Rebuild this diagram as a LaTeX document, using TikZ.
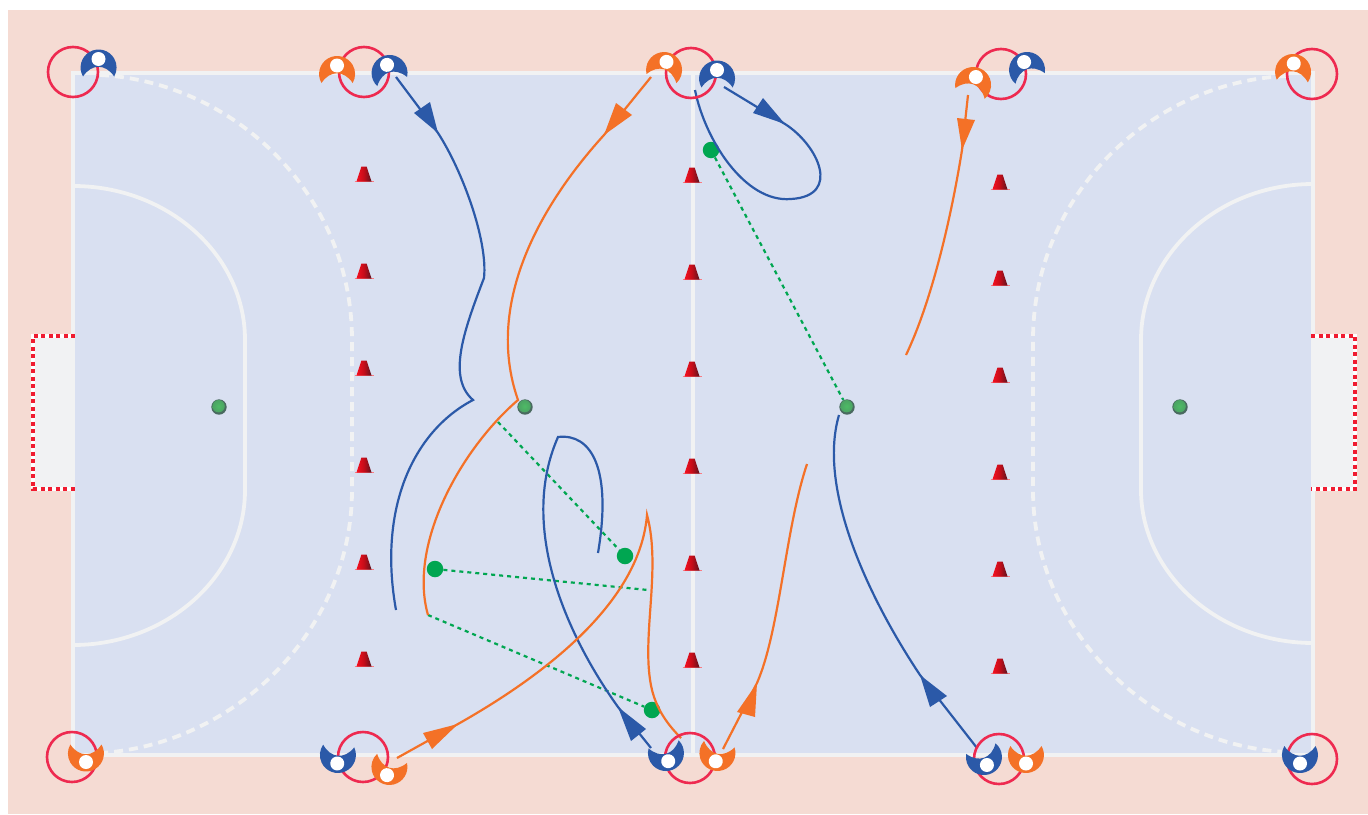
\documentclass[tikz,border=0pt]{standalone}
\usetikzlibrary{calc}
\definecolor{bgpink}{HTML}{F5DBD3}
\definecolor{fieldc}{HTML}{D9E0F1}
\definecolor{linec}{HTML}{F1F2F3}
\definecolor{blueP}{HTML}{2B59A8}
\definecolor{orangeP}{HTML}{F47127}
\definecolor{ringc}{HTML}{EE2A50}
\definecolor{greenD}{HTML}{00A651}
\definecolor{goalred}{HTML}{F01C30}
\definecolor{conedark}{HTML}{5A1420}
\definecolor{conered}{HTML}{F41020}
\definecolor{ballin}{HTML}{4DBB65}
\definecolor{ballout}{HTML}{4A6A60}
\tikzset{
  court/.style={draw=linec,line width=3.8pt},
  courtdash/.style={draw=linec,line width=3.8pt,dash pattern=on 9pt off 6pt},
  ring/.style={draw=ringc,line width=2.6pt,fill=none,circle,minimum size=50pt,inner sep=0pt},
  bluerun/.style={draw=blueP,line width=2.2pt},
  orangerun/.style={draw=orangeP,line width=2.2pt},
  bluehead/.style={fill=blueP,draw=none},
  orangehead/.style={fill=orangeP,draw=none},
  greendot/.style={circle,fill=greenD,draw=none,minimum size=16.5pt,inner sep=0pt},
  pass/.style={draw=greenD,line width=2.2pt,dash pattern=on 4pt off 4pt},
  ballnode/.style={circle,draw=none,minimum size=15.5pt,inner sep=0pt},
}
\newcommand{\plyr}[4]{%
  \begin{scope}[shift={(#1,#2)},rotate=#3]
    \fill[#4] (-15.5,9) arc[start angle=210,end angle=-30,radius=18pt]
      .. controls (7,-4) and (-7,-4) .. (-15.5,9) -- cycle;
    \fill[white] (0,-8.5) circle (7pt);
  \end{scope}}
\newcommand{\cone}[2]{%
  \begin{scope}[shift={(#1,#2)}]
    \draw[conered!55!white,line width=1pt] (-9.5,7.6) -- (9.5,7.6);
    \shade[left color=conered,right color=conedark,middle color=conered!80!black]
      (-7.5,7.5) -- (-2.6,-7.5) -- (2.6,-7.5) -- (7.5,7.5) -- cycle;
  \end{scope}}
\newcommand{\ball}[3]{%
  \node[ballnode] (#1) at (#2,#3) {};
  \fill[ballout] (#2,#3) circle (7.7pt);
  \shade[inner color=ballin,outer color=ballin!70!ballout] (#2-0.4,#3-0.8) circle (6.2pt);}
\begin{document}
\begin{tikzpicture}[x=1pt,y=-1pt]
\useasboundingbox (0,0) rectangle (1368,814);
\fill[white] (0,0) rectangle (1368,814);
\fill[bgpink] (8,10) rectangle (1368,814);
% field
\fill[fieldc] (73,73) rectangle (1313,755);
\draw[court] (73,73) rectangle (1313,755);
\draw[court] (693,73) -- (693,755);
\draw[court] (73,186) .. controls (168,186) and (245,255) .. (245,340) -- (245,490) .. controls (245,575) and (168,645) .. (73,645);
\draw[court] (1313,184) .. controls (1218,184) and (1141,255) .. (1141,340) -- (1141,490) .. controls (1141,573) and (1218,643) .. (1313,643);
\draw[courtdash] (100,75) .. controls (235,82) and (352,195) .. (352,340) -- (352,490) .. controls (352,630) and (235,745) .. (100,753);
\draw[courtdash] (1286,76) .. controls (1151,82) and (1033,195) .. (1033,340) -- (1033,490) .. controls (1033,630) and (1151,745) .. (1286,752);
% goals
\fill[linec] (33,336) rectangle (75,489);
\fill[linec] (1311,336) rectangle (1355,489);
\draw[white,line width=3.8pt] (75,336) -- (33,336) -- (33,489) -- (75,489);
\draw[white,line width=3.8pt] (1311,336) -- (1355,336) -- (1355,489) -- (1311,489);
\draw[goalred,line width=3.2pt,dash pattern=on 4pt off 3.5pt] (75,336) -- (33,336) -- (33,489) -- (75,489);
\draw[goalred,line width=3.2pt,dash pattern=on 4pt off 3.5pt] (1311,336) -- (1355,336) -- (1355,489) -- (1311,489);
% cones
\foreach \y in {174,271,368,465,562,659} {\cone{364}{\y}}
\foreach \y in {175,272,369,466,563,660} {\cone{692}{\y}}
\foreach \y in {182,278,375,472,569,666} {\cone{1000}{\y}}
% balls
\ball{ballA}{219}{407}
\ball{ballB}{525}{407}
\ball{ballC}{847}{407}
\ball{ballD}{1180}{407}
% green dots
\node[greendot] (dotA) at (711,150) {};
\node[greendot] (dotB) at (625,556) {};
\node[greendot] (dotC) at (435,569) {};
\node[greendot] (dotD) at (652,710) {};
% way points
\coordinate (oCusp) at (518,400);
\coordinate (oLow) at (428,615);
\coordinate (passStart) at (498,422);
\coordinate (passEnd) at (648,590);
\coordinate (bOneA) at (396,77);
\coordinate (bOneB) at (438,133);
\coordinate (bOneC) at (484,278);
\coordinate (bOneD) at (473,400);
\coordinate (bOneE) at (396,610);
\coordinate (oOneA) at (651,77);
\coordinate (oOneB) at (604,135);
\coordinate (bTwoA) at (651,748);
\coordinate (bTwoB) at (618,707);
\coordinate (bTwoC) at (558,437);
\coordinate (bTwoD) at (598,553);
\coordinate (oTwoA) at (397,758);
\coordinate (oTwoB) at (458,724);
\coordinate (oTwoC) at (647,515);
\coordinate (oTwoD) at (681,738);
\coordinate (oThrA) at (723,749);
\coordinate (oThrB) at (757,683);
\coordinate (oThrC) at (807,464);
\coordinate (bThrA) at (977,748);
\coordinate (bThrB) at (920,675);
\coordinate (bThrC) at (839,415);
\coordinate (bFouA) at (724,87);
\coordinate (bFouB) at (785,124);
\coordinate (bFouC) at (791,199);
\coordinate (bFouD) at (695,90);
\coordinate (oFouA) at (968,95);
\coordinate (oFouB) at (962,150);
\coordinate (oFouC) at (906,355);
% passes
\draw[pass] (dotA) -- (ballC);
\draw[pass] (passStart) -- (dotB);
\draw[pass] (dotC) -- (passEnd);
\draw[pass] (oLow) -- (dotD);
% runs
\draw[bluerun] (bOneA) -- (bOneB) .. controls (462,170) and (488,240) .. (bOneC)
  .. controls (462,335) and (448,378) .. (bOneD)
  .. controls (412,432) and (378,510) .. (bOneE);
\draw[orangerun] (oOneA) -- (oOneB) .. controls (545,200) and (483,300) .. (oCusp)
  .. controls (460,450) and (408,545) .. (oLow);
\draw[bluerun] (bTwoA) -- (bTwoB) .. controls (570,640) and (517,530) .. (bTwoC)
  .. controls (592,433) and (612,470) .. (bTwoD);
\draw[orangerun] (oTwoA) -- (oTwoB) .. controls (550,672) and (640,600) .. (oTwoC)
  .. controls (662,570) and (640,640) .. (652,690)
  .. controls (657,710) and (668,725) .. (oTwoD);
\draw[orangerun] (oThrA) -- (oThrB) .. controls (780,630) and (785,530) .. (oThrC);
\draw[bluerun] (bThrA) -- (bThrB) .. controls (870,600) and (817,490) .. (bThrC);
\draw[bluerun] (bFouA) -- (bFouB) .. controls (818,145) and (842,196) .. (bFouC)
  .. controls (745,203) and (705,140) .. (bFouD);
\draw[orangerun] (oFouA) -- (oFouB) .. controls (950,225) and (930,305) .. (oFouC);
% arrow heads
\fill[bluehead] (414,113) -- (430,102) -- (bOneB) -- cycle;
\fill[orangehead] (616,103) -- (632,115) -- (oOneB) -- cycle;
\fill[bluehead] (631,741) -- (646,729) -- (bTwoB) -- cycle;
\fill[orangehead] (423,733) -- (432,749) -- (oTwoB) -- cycle;
\fill[orangehead] (737,712) -- (755,717) -- (oThrB) -- cycle;
\fill[bluehead] (947,696) -- (930,707) -- (bThrB) -- cycle;
\fill[bluehead] (753,113) -- (763,98) -- (bFouB) -- cycle;
\fill[orangehead] (957,118) -- (975,120) -- (oFouB) -- cycle;
% rings
\node[ring] (ringA) at (73,72) {};
\node[ring] (ringB) at (364,72) {};
\node[ring] (ringC) at (691,73) {};
\node[ring] (ringD) at (1001,74) {};
\node[ring] (ringE) at (1312,74) {};
\node[ring] (ringF) at (72,757) {};
\node[ring] (ringG) at (363,757) {};
\node[ring] (ringH) at (690,758) {};
\node[ring] (ringI) at (999,759) {};
\node[ring] (ringJ) at (1312,759) {};
% players
\plyr{98.5}{67.5}{0}{blueP}
\plyr{337}{74}{0}{orangeP}
\plyr{389.5}{73}{17}{blueP}
\plyr{664}{70}{-17}{orangeP}
\plyr{717}{78.5}{0}{blueP}
\plyr{973}{85}{-20}{orangeP}
\plyr{1027}{70}{20}{blueP}
\plyr{1293}{72}{-5}{orangeP}
\plyr{86}{753.5}{180}{orangeP}
\plyr{338}{755}{175}{blueP}
\plyr{389.5}{767}{163}{orangeP}
\plyr{666}{753}{195}{blueP}
\plyr{717.5}{753}{168}{orangeP}
\plyr{984}{757}{200}{blueP}
\plyr{1026}{755}{180}{orangeP}
\plyr{1300}{755}{180}{blueP}
\end{tikzpicture}
\end{document}
